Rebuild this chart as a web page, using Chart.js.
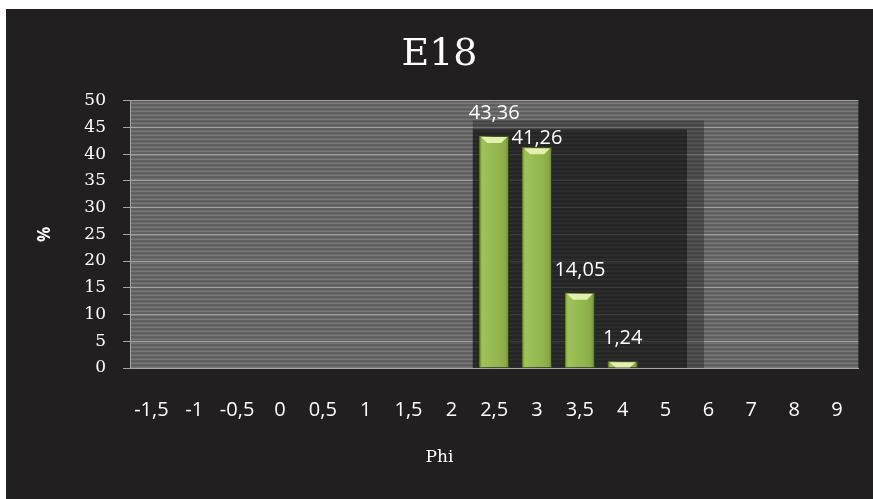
<!DOCTYPE html>
<html>
<head>
<meta charset="utf-8">
<script src="https://cdn.jsdelivr.net/npm/chart.js@4/dist/chart.umd.min.js"></script>
<style>
  html, body { margin: 0; padding: 0; background: #231f20; overflow: hidden; }
  #frame { position: absolute; left: 0; top: 0; width: 873px; height: 499px; box-sizing: border-box;
           border-top: 9px solid #ffffff; border-left: 6px solid #ffffff; background: #231f20; }
  #wrap { position: relative; width: 867px; height: 490px; }
</style>
</head>
<body>
<div id="frame"><div id="wrap"><canvas id="chart"></canvas></div></div>
<script>
// Grain size classes (phi) and weight percentage for sample E18
const phiClasses = ['-1,5', '-1', '-0,5', '0', '0,5', '1', '1,5', '2', '2,5', '3', '3,5', '4', '5', '6', '7', '8', '9'];
const percentValues = [null, null, null, null, null, null, null, null, 43.36, 41.26, 14.05, 1.24, null, null, null, null, null];
const yTicks = [0, 5, 10, 15, 20, 25, 30, 35, 40, 45, 50];

const serif = "'DejaVu Serif', 'Liberation Serif', serif";
const sans = "'Open Sans', 'Liberation Sans', sans-serif";

function fmt(v) {
    return v.toFixed(2).replace('.', ',');
}

// striped grey fill for the plot area
function makeStripes(ctx) {
    const c = document.createElement('canvas');
    c.width = 4;
    c.height = 4;
    const p = c.getContext('2d');
    const rows = ['#5c5c5c', '#6c6c6c', '#777777', '#636363'];
    rows.forEach(function(col, i) {
        p.fillStyle = col;
        p.fillRect(0, i, 4, 1);
    });
    return ctx.createPattern(c, 'repeat');
}

const plotBackground = {
    id: 'plotBackground',
    beforeDraw: function(chart) {
        const a = chart.chartArea;
        const ctx = chart.ctx;
        ctx.save();
        ctx.fillStyle = makeStripes(ctx);
        ctx.fillRect(a.left, a.top, a.right - a.left, a.bottom - a.top);
        ctx.restore();
    },
    beforeDatasetsDraw: function(chart) {
        // dark panel behind the filled classes
        const x = chart.scales.x;
        const y = chart.scales.y;
        const filled = percentValues.map(function(v, i) { return v === null ? -1 : i; }).filter(function(i) { return i >= 0; });
        const first = filled[0];
        const last = filled[filled.length - 1] + 1;
        const half = (x.getPixelForValue(1) - x.getPixelForValue(0)) / 2;
        const x0 = x.getPixelForValue(first) - half;
        const x1 = x.getPixelForValue(last) + half;
        const ctx = chart.ctx;
        ctx.save();
        ctx.fillStyle = 'rgba(20,20,20,0.35)';
        ctx.fillRect(x0, y.getPixelForValue(46.3), x1 - x0 + 17, y.bottom - y.getPixelForValue(46.3));
        ctx.fillStyle = 'rgba(0,0,0,0.45)';
        ctx.fillRect(x0, y.getPixelForValue(44.6), x1 - x0, y.bottom - y.getPixelForValue(44.6));
        ctx.restore();
    }
};

const barStyle = {
    id: 'barStyle',
    beforeDatasetDraw: function(chart) {
        const ctx = chart.ctx;
        ctx.save();
        ctx.shadowColor = 'rgba(0,0,0,1)';
        ctx.shadowBlur = 9;
        ctx.shadowOffsetX = 6;
        ctx.shadowOffsetY = 0;
    },
    afterDatasetDraw: function(chart, args) {
        const ctx = chart.ctx;
        ctx.restore();
        ctx.save();
        args.meta.data.forEach(function(bar, i) {
            if (percentValues[i] === null) {
                return;
            }
            const l = bar.x - bar.width / 2;
            const r = bar.x + bar.width / 2;
            const t = bar.y;
            const b = bar.base;
            const g = ctx.createLinearGradient(l, 0, r, 0);
            g.addColorStop(0, 'rgba(80,110,30,0.55)');
            g.addColorStop(0.12, 'rgba(200,225,130,0.25)');
            g.addColorStop(0.5, 'rgba(170,205,100,0.1)');
            g.addColorStop(0.88, 'rgba(90,120,40,0.2)');
            g.addColorStop(1, 'rgba(60,90,20,0.6)');
            ctx.fillStyle = g;
            ctx.fillRect(l, t, r - l, b - t);
            // light cap at the top of the bar
            const capH = Math.min(6, b - t - 1);
            ctx.fillStyle = 'rgba(235,245,185,0.9)';
            ctx.beginPath();
            ctx.moveTo(l + 2, t + 1);
            ctx.lineTo(r - 2, t + 1);
            ctx.lineTo(r - 8, t + 1 + capH);
            ctx.lineTo(l + 8, t + 1 + capH);
            ctx.closePath();
            ctx.fill();
        });
        ctx.restore();
    }
};

// value labels above the bars, pushed down when they would overlap the previous one
const valueLabels = {
    id: 'valueLabels',
    afterDatasetsDraw: function(chart) {
        const ctx = chart.ctx;
        const meta = chart.getDatasetMeta(0);
        ctx.save();
        ctx.font = '20px ' + sans;
        ctx.fillStyle = '#ffffff';
        ctx.textAlign = 'center';
        ctx.textBaseline = 'middle';
        let prev = null;
        meta.data.forEach(function(bar, i) {
            const v = percentValues[i];
            if (v === null) {
                return;
            }
            const text = fmt(v);
            const w = ctx.measureText(text).width;
            let cy = bar.y - 23;
            const box = { l: bar.x - w / 2, r: bar.x + w / 2 };
            if (prev && box.l < prev.r && Math.abs(cy - prev.cy) < 20) {
                cy = prev.cy + 25;
            }
            ctx.fillText(text, bar.x, cy);
            prev = { l: box.l, r: box.r, cy: cy };
        });
        ctx.restore();
    }
};

new Chart(document.getElementById('chart'), {
    type: 'bar',
    data: {
        labels: phiClasses,
        datasets: [{
            label: 'E18',
            data: percentValues,
            backgroundColor: '#93b74e',
            borderColor: '#6a8c2c',
            borderWidth: 1,
            categoryPercentage: 1,
            barPercentage: 0.7
        }]
    },
    plugins: [plotBackground, barStyle, valueLabels],
    options: {
        responsive: true,
        maintainAspectRatio: false,
        animation: false,
        layout: { padding: { left: 11, right: 11, top: 0, bottom: 0 } },
        plugins: {
            legend: { display: false },
            tooltip: { enabled: false },
            title: {
                display: true,
                text: 'E18',
                color: '#ffffff',
                font: { family: serif, size: 38, weight: 'normal' },
                padding: { top: 23, bottom: 23 }
            },
            subtitle: {
                display: true,
                position: 'bottom',
                text: 'Phi',
                color: '#ffffff',
                font: { family: serif, size: 17, weight: 'normal' },
                padding: { top: 0, bottom: 31 }
            }
        },
        scales: {
            x: {
                grid: { display: false, drawTicks: false },
                border: { display: true, color: '#a8a8a8', width: 1 },
                ticks: {
                    color: '#ffffff',
                    font: { family: sans, size: 20 },
                    padding: 30,
                    maxRotation: 0,
                    autoSkip: false
                },
                afterFit: function(scale) {
                    scale.height = 79.6;
                }
            },
            y: {
                min: 0,
                max: 50,
                afterBuildTicks: function(scale) {
                    scale.ticks = yTicks.map(function(v) { return { value: v }; });
                },
                grid: { color: '#a2a2a2', lineWidth: 1, tickLength: 7 },
                border: { display: true, color: '#a8a8a8', width: 1 },
                ticks: {
                    color: '#ffffff',
                    font: { family: serif, size: 17 },
                    padding: 17
                },
                title: {
                    display: true,
                    text: '%',
                    color: '#ffffff',
                    font: { family: sans, size: 17, weight: 'bold' },
                    padding: { top: 18, bottom: 0 }
                },
                afterFit: function(scale) {
                    scale.width = 113;
                }
            }
        }
    }
});
</script>
</body>
</html>
